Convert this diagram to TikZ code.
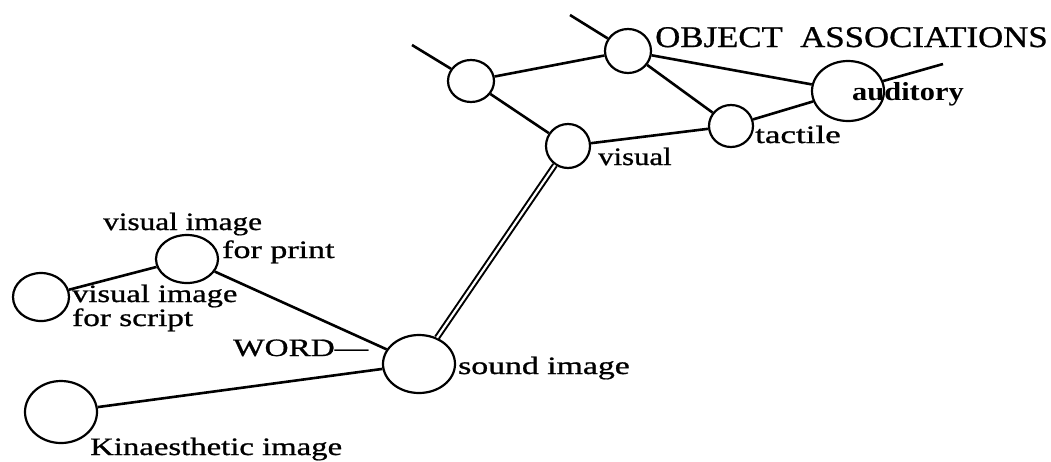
\documentclass[tikz,border=0pt]{standalone}
\usepackage{graphicx}
\usepackage{fontspec}
\setmainfont{Liberation Serif}
\usetikzlibrary{shapes.geometric}
% horizontally widened words: #1 stretch factor, #2 the words
\newcommand{\wide}[2]{\scalebox{#1}[1]{#2}}
% heavy face at a given size
\newcommand{\heavy}[1]{\fontsize{#1}{#1}\selectfont\addfontfeature{FakeBold=0.8}}
\begin{document}
\begin{tikzpicture}[x=1pt,y=-1pt,
  blob/.style={draw,ellipse,line width=2.2pt,inner sep=0pt},
  link/.style={line width=2.6pt},
  dlink/.style={line width=2pt,double,double distance=2.2pt},
  lbl/.style={font=\heavy{25},inner sep=0pt,anchor=base west}]
\useasboundingbox (0,0) rectangle (1051,461);
% object association centres
\node[blob,minimum width=46pt,minimum height=42pt] (tl) at (471,81) {};
\node[blob,minimum width=46pt,minimum height=44pt] (obj) at (628,51) {};
\node[blob,minimum width=72pt,minimum height=60pt] (aud) at (848,91) {};
\node[blob,minimum width=44pt,minimum height=42pt] (tac) at (731,126) {};
\node[blob,minimum width=44pt,minimum height=44pt] (vis) at (568,146) {};
% word centres
\node[blob,minimum width=62pt,minimum height=48pt] (prt) at (187,259) {};
\node[blob,minimum width=56pt,minimum height=48pt] (scr) at (41,297) {};
\node[blob,minimum width=72pt,minimum height=58pt] (snd) at (419,364) {};
\node[blob,minimum width=72pt,minimum height=62pt] (kin) at (61,412) {};
% loose ends
\coordinate (e1) at (412,45);
\coordinate (e2) at (570,15);
\coordinate (e3) at (943,64);
% connectors
\draw[link] (e1) -- (tl);
\draw[link] (e2) -- (obj);
\draw[link] (aud) -- (e3);
\draw[link] (tl) -- (obj);
\draw[link] (tl) -- (vis);
\draw[link] (obj) -- (tac);
\draw[link] (obj) -- (aud);
\draw[link] (vis) -- (tac);
\draw[link] (tac) -- (aud);
\draw[dlink] (vis) -- (snd);
\draw[link] (prt) -- (scr);
\draw[link] (prt) -- (snd);
\draw[link] (snd) -- (kin);
% labels
\node[lbl,font=\heavy{30}] (tobj) at (655,47) {\wide{1.16}{OBJECT\ \ ASSOCIATIONS}};
\node[lbl,font=\fontsize{26}{26}\selectfont\bfseries] (taud) at (852,100) {\wide{1.17}{auditory}};
\node[lbl] (ttac) at (755,143) {\wide{1.4}{tactile}};
\node[lbl] (tvis) at (598,165) {\wide{1.23}{visual}};
\node[lbl] (tprt1) at (103,230) {\wide{1.25}{visual image}};
\node[lbl] (tprt2) at (222,258) {\wide{1.36}{for print}};
\node[lbl] (tscr1) at (72,302) {\wide{1.3}{visual image}};
\node[lbl] (tscr2) at (72,326) {\wide{1.33}{for script}};
\node[lbl,font=\heavy{25}] (tword) at (233,356) {\wide{1.33}{WORD---}};
\node[lbl] (tsnd) at (458,374) {\wide{1.35}{sound image}};
\node[lbl] (tkin) at (90,455) {\wide{1.31}{Kinaesthetic image}};
\end{tikzpicture}
\end{document}
